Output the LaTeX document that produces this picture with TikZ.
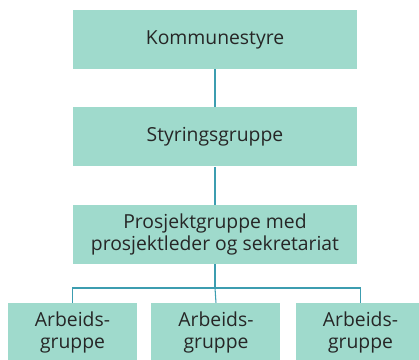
\documentclass[tikz,border=0pt]{standalone}
\usepackage{fontspec}
\setmainfont{Open Sans}
\definecolor{boxgreen}{HTML}{9FDACC}
\definecolor{linkblue}{HTML}{3C9DB0}
\definecolor{textgray}{HTML}{262626}
\begin{document}
\begin{tikzpicture}[x=0.75pt,y=-0.75pt,
    orgbox/.style={fill=boxgreen,text=textgray,align=center,inner sep=0pt,
        minimum height=44.25pt,font=\fontsize{14.5}{16.5}\selectfont},
    wide/.style={orgbox,minimum width=213pt},
    small/.style={orgbox,minimum width=96.75pt},
    link/.style={draw=linkblue,line width=0.8pt}]
    \useasboundingbox (0,0) rectangle (419,360);
    \clip (0,0) rectangle (419,360);
    \node[wide] (kommune) at (215,39.5) {Kommunestyre};
    \node[wide] (styring) at (215,137) {Styringsgruppe};
    \node[wide] (prosjekt) at (215,234.5) {Prosjektgruppe med\\prosjektleder og sekretariat};
    \node[small] (arb1) at (72.5,332.5) {Arbeids-\\gruppe};
    \node[small] (arb2) at (216,332.5) {Arbeids-\\gruppe};
    \node[small] (arb3) at (360.5,332.5) {Arbeids-\\gruppe};
    \coordinate (fork) at (215,288);
    \draw[link] (kommune) -- (styring);
    \draw[link] (styring) -- (prosjekt);
    \draw[link] (prosjekt) -- (fork);
    \draw[link] (arb1.north) |- (fork) -| (arb3.north);
    \draw[link] (fork) -- (arb2.north);
\end{tikzpicture}
\end{document}
